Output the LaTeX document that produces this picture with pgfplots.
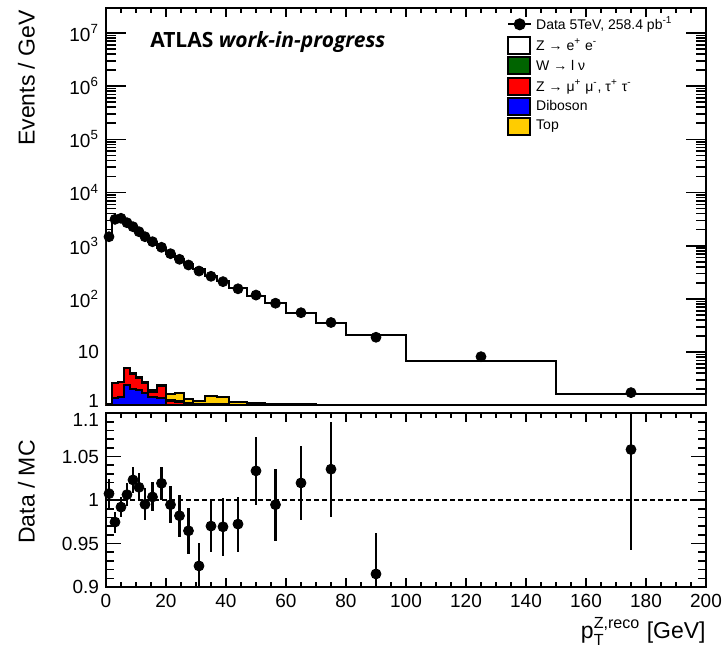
\documentclass[border=0pt]{standalone}
\usepackage{fontspec}
\setmainfont{Liberation Sans}
\newfontfamily\atlasfont{Open Sans}
\usepackage{amsmath}
\usepackage{pgfplots}
\usepackage{pgfplotstable}
\pgfplotsset{compat=1.18}
\usetikzlibrary{calc}

\definecolor{wgreen}{RGB}{0,100,0}
\definecolor{topyellow}{RGB}{255,204,0}

% MC stack, cumulative: tot = all, top = dib+zmm+w+top, w = dib+zmm+w, zmm = dib+zmm
\pgfplotstableread{
x    tot    top   w     zmm   dib
0    1465   1.08  1.06  1.05  0.9
2    3215   2.65  2.62  2.6   1.4
4    3302   2.75  2.72  2.7   1.45
6    2688   5.1   5.05  5.0   2.4
8    2224   4.0   3.95  3.9   2.05
10   1807   3.4   3.35  3.3   1.9
12   1483   2.7   2.65  2.6   1.7
14   1185   1.95  1.8   1.75  1.45
17   915    2.4   2.35  2.3   1.35
20   712    1.65  1.25  1.2   0.95
23   565    1.7   1.18  1.15  0.9
26   450    1.3   1.1   1.08  0.85
29   361    1.2   1.07  1.05  0.8
33   274    1.5   1.05  1.04  0.8
37   218    1.42  1.04  1.03  0.75
41   159    1.15  1.03  1.02  0.7
47   114    1.1   1.02  1.01  0.7
53   83.5   1.06  0.95  0.9   0.6
60   54     1.04  0.9   0.85  0.6
70   34.8   1.02  0.9   0.85  0.5
80   20.7   1.01  0.85  0.8   0.5
100  6.8    0.9   0.8   0.7   0.4
150  1.65   0.8   0.7   0.6   0.4
200  1.65   0.8   0.7   0.6   0.4
}\mc

\pgfplotstableread{
x     y
1     1476
3     3133
5     3275
7     2704
9     2275
11    1833
13    1476
15.5  1189
18.5  933
21.5  708
24.5  555
27.5  434
31    334
35    266
39    211
44    155
50    118
56.5  83
65    55
75    36
90    19
125   8.2
175   1.73
}\data

\pgfplotstableread{
x     r       e
1     1.0073  0.0173
3     0.9746  0.0121
5     0.9919  0.0119
7     1.0061  0.0130
9     1.0231  0.0146
11    1.0146  0.0163
13    0.9950  0.0183
15.5  1.0035  0.0167
18.5  1.0192  0.0188
21.5  0.9946  0.0215
24.5  0.9819  0.0240
27.5  0.9646  0.0267
31    0.9242  0.0260
35    0.9700  0.0298
39    0.9692  0.0330
44    0.9723  0.0317
50    1.0335  0.0388
56.5  0.9946  0.0415
65    1.0196  0.0430
75    1.0354  0.0544
90    0.9150  0.0470
175   1.0580  0.1160
}\ratio

\pgfplotsset{
  rootaxis/.style={
    scale only axis, width=300pt, xmin=0, xmax=200,
    axis line style={line width=1pt},
    tick align=inside, tick pos=both, ticklabel pos=left,
    xtick={0,20,...,200}, minor x tick num=3,
    tick style={black, line width=0.8pt},
    xtick style={/pgfplots/major tick length=4.5pt, /pgfplots/minor tick length=2.5pt},
    tick label style={font=\fontsize{9.5}{11}\selectfont},
    /pgf/number format/assume math mode=true,
    label style={font=\fontsize{11.5}{13}\selectfont},
  },
  stackfill/.style={const plot mark left, draw=black, line width=1pt, forget plot},
}

\begin{document}
\begin{tikzpicture}
\begin{axis}[rootaxis, name=main, at={(0,0)}, anchor=south west,
  height=198.65pt, ymode=log, ymin=1, ymax=2.94e7,
  xticklabels={},
  ytick={1,10,100,1000,10000,100000,1000000,10000000},
  yticklabels={\raisebox{-1.2pt}[0pt][0pt]{1},10,10\textsuperscript{2},10\textsuperscript{3},10\textsuperscript{4},10\textsuperscript{5},10\textsuperscript{6},10\textsuperscript{7}},
  ytick style={/pgfplots/major tick length=10pt, /pgfplots/minor tick length=5pt},
  ylabel={Events / GeV},
  ylabel style={at={(axis description cs:-0.107,1.012)}, anchor=south east},
  legend style={at={(rel axis cs:0.668,0.99)}, anchor=north west, draw=none, fill=none,
    font=\fontsize{7}{8}\selectfont, row sep=-0.8pt, inner sep=0pt},
  legend cell align=left,
  boxlegend/.style={/pgfplots/legend image code/.code={\draw[##1] (0pt,-4pt) rectangle (11pt,4.5pt);}},
]
\addplot[stackfill, fill=white] table[x=x, y=tot]{\mc} \closedcycle;
\addplot[stackfill, fill=topyellow] table[x=x, y=top]{\mc} \closedcycle;
\addplot[stackfill, fill=wgreen] table[x=x, y=w]{\mc} \closedcycle;
\addplot[stackfill, fill=red] table[x=x, y=zmm]{\mc} \closedcycle;
\addplot[stackfill, fill=blue] table[x=x, y=dib]{\mc} \closedcycle;
\addplot[black, only marks, mark=*, mark size=2.5pt, forget plot] table[x=x, y=y]{\data};

\addlegendimage{black, line width=1pt, mark=*, mark size=2.5pt,
  legend image code/.code={\draw[##1] (0pt,0pt) -- (11.5pt,0pt); \fill (5.75pt,0pt) circle (2.5pt);}}
\addlegendentry{Data 5TeV, 258.4 pb\textsuperscript{-1}}
\addlegendimage{boxlegend, draw=black, line width=1pt, fill=white}
\addlegendentry{Z → e\textsuperscript{+} e\textsuperscript{-}}
\addlegendimage{boxlegend, draw=black, line width=1pt, fill=wgreen}
\addlegendentry{W → l ν}
\addlegendimage{boxlegend, draw=black, line width=1pt, fill=red}
\addlegendentry{Z → μ\textsuperscript{+} μ\textsuperscript{-}, τ\textsuperscript{+} τ\textsuperscript{-}}
\addlegendimage{boxlegend, draw=black, line width=1pt, fill=blue}
\addlegendentry{Diboson}
\addlegendimage{boxlegend, draw=black, line width=1pt, fill=topyellow}
\addlegendentry{Top}

\node[anchor=west, font=\atlasfont\fontsize{10.5}{12}\selectfont\bfseries]
  at (rel axis cs:0.062,0.914) {ATLAS \itshape work-in-progress};
\end{axis}

\begin{axis}[rootaxis, at={($(main.south west)+(0,-3.85pt)$)}, anchor=north west,
  height=87pt, ymin=0.9, ymax=1.1,
  ytick={0.9,0.95,1,1.05,1.1}, yticklabels={0.9,0.95,1,1.05,\raisebox{-6.6pt}[0pt][0pt]{1.1}},
  minor y tick num=4,
  ytick style={/pgfplots/major tick length=7.5pt, /pgfplots/minor tick length=4pt},
  ylabel={Data / MC},
  ylabel style={at={(axis description cs:-0.107,0.546)}, anchor=south},
  xlabel={p$^{\text{Z,reco}}_{\text{T}}$ [GeV]},
  xlabel style={at={(axis description cs:1,0)}, anchor=north east, yshift=-15pt, inner sep=0pt},
]
\addplot[black, line width=1pt, dash pattern=on 2.5pt off 1.5pt] coordinates {(0,1) (200,1)};
\addplot[black, only marks, mark=*, mark size=2.5pt,
  error bars/.cd, y dir=both, y explicit, error mark=none,
  error bar style={line width=1.3pt}] table[x=x, y=r, y error=e]{\ratio};
\end{axis}

\pgfresetboundingbox
\path[use as bounding box] (-53pt,-123.85pt) rectangle (308.5pt,202.65pt);
\end{tikzpicture}
\end{document}
